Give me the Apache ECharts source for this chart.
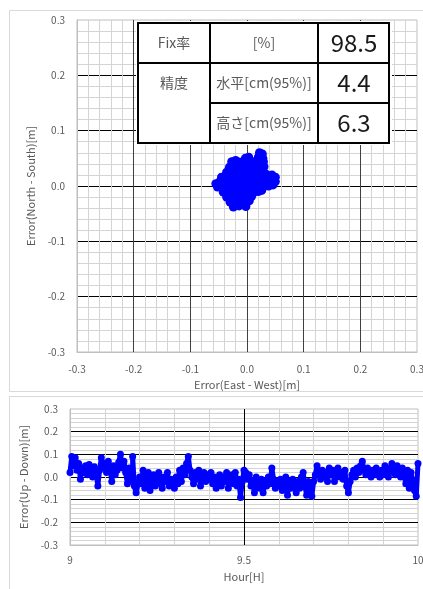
<!DOCTYPE html>
<html>
<head>
<meta charset="utf-8">
<script src="https://cdn.jsdelivr.net/npm/echarts@6/dist/echarts.min.js"></script>
<style>
  html, body { margin: 0; padding: 0; background: #fff; }
  #main { width: 423px; height: 589px; }
</style>
</head>
<body>
<div id="main"></div>
<script>
// 軸の目盛
var errTicks = [-0.3, -0.2, -0.1, 0.0, 0.1, 0.2, 0.3];
var hourTicks = [9, 9.5, 10];

// 表の中身
var tableHeads = ['Fix率', '精度'];
var tableUnits = ['[%]', '水平[cm(95%)]', '高さ[cm(95%)]'];
var tableValues = ['98.5', '4.4', '6.3'];

// 水平誤差 [East-West, North-South] (m)
var horizErr = [
  [0.022, 0.060], [0.027, 0.058],
  [-0.003, 0.050], [0.003, 0.052], [0.020, 0.052], [0.028, 0.050],
  [-0.027, 0.044], [-0.020, 0.046], [-0.012, 0.043], [-0.004, 0.045], [0.006, 0.043], [0.014, 0.044], [0.022, 0.042], [0.029, 0.044],
  [-0.031, 0.034], [-0.022, 0.035], [-0.013, 0.033], [-0.004, 0.036], [0.005, 0.034], [0.014, 0.035], [0.023, 0.033], [0.030, 0.035],
  [-0.036, 0.025], [-0.027, 0.026], [-0.018, 0.024], [-0.009, 0.026], [0.000, 0.025], [0.009, 0.024], [0.018, 0.026], [0.027, 0.025], [0.033, 0.022],
  [-0.045, 0.016], [-0.036, 0.017], [-0.027, 0.015], [-0.018, 0.017], [-0.009, 0.016], [0.000, 0.015], [0.009, 0.017], [0.018, 0.016], [0.027, 0.015], [0.036, 0.018], [0.044, 0.020], [0.050, 0.016],
  [-0.055, 0.004], [-0.048, 0.008], [-0.040, 0.006], [-0.031, 0.007], [-0.022, 0.008], [-0.013, 0.006], [-0.004, 0.007], [0.005, 0.008], [0.014, 0.006], [0.023, 0.007], [0.032, 0.006], [0.041, 0.008], [0.050, 0.008],
  [-0.052, -0.002], [-0.044, -0.001], [-0.035, -0.003], [-0.026, -0.002], [-0.017, -0.001], [-0.008, -0.003], [0.001, -0.002], [0.010, -0.001], [0.019, -0.003], [0.028, -0.002], [0.038, 0.000], [0.046, 0.002],
  [-0.042, -0.011], [-0.033, -0.012], [-0.024, -0.010], [-0.015, -0.012], [-0.006, -0.011], [0.003, -0.010], [0.012, -0.012], [0.020, -0.010], [0.026, -0.008],
  [-0.036, -0.020], [-0.027, -0.021], [-0.018, -0.019], [-0.009, -0.021], [0.000, -0.020], [0.008, -0.019],
  [-0.030, -0.029], [-0.021, -0.030], [-0.012, -0.028], [-0.003, -0.030], [0.004, -0.027],
  [-0.024, -0.038], [-0.014, -0.036], [-0.002, -0.037]
];

// 高さ誤差 [時刻(H), Up-Down(m)]
var upDownErr = [
  [9.000, 0.02], [9.005, 0.09], [9.010, 0.05], [9.015, 0.085], [9.020, 0.03], [9.025, 0.06], [9.030, -0.01], [9.035, 0.04], [9.040, 0.02], [9.045, 0.05],
  [9.050, 0.01], [9.055, 0.055], [9.060, 0.03], [9.065, 0.00], [9.070, 0.045], [9.075, 0.02], [9.080, -0.04], [9.085, 0.03], [9.090, 0.085], [9.095, 0.04],
  [9.100, 0.06], [9.105, 0.02], [9.110, 0.07], [9.115, 0.04], [9.120, -0.02], [9.125, 0.05], [9.130, 0.01], [9.135, 0.03], [9.140, 0.065], [9.145, 0.10],
  [9.150, 0.04], [9.155, 0.07], [9.160, 0.02], [9.165, -0.03], [9.170, 0.04], [9.175, 0.01], [9.180, -0.02], [9.180, 0.09], [9.185, -0.04], [9.190, -0.07],
  [9.200, 0.00], [9.205, -0.03], [9.210, 0.03], [9.215, -0.05], [9.220, -0.01], [9.225, 0.02], [9.230, -0.06], [9.235, -0.02], [9.240, 0.01], [9.245, -0.04],
  [9.250, -0.01], [9.255, 0.02], [9.260, -0.03], [9.265, -0.05], [9.270, 0.00], [9.275, -0.02], [9.280, 0.02], [9.285, -0.04], [9.290, -0.01], [9.295, -0.03],
  [9.300, -0.05], [9.305, 0.00], [9.310, -0.03], [9.315, 0.03], [9.320, -0.02], [9.325, 0.04], [9.330, 0.01], [9.335, 0.06], [9.340, 0.09], [9.345, 0.03],
  [9.350, 0.00], [9.355, -0.03], [9.360, 0.02], [9.365, -0.01], [9.370, 0.03], [9.375, -0.04], [9.380, 0.00], [9.385, 0.02], [9.390, -0.02], [9.395, 0.01],
  [9.400, -0.01], [9.405, 0.02], [9.410, -0.03], [9.415, 0.00], [9.420, -0.05], [9.425, -0.02], [9.430, 0.01], [9.435, -0.04], [9.440, 0.00], [9.445, -0.02],
  [9.450, 0.02], [9.455, -0.05], [9.460, -0.01], [9.465, 0.01], [9.470, -0.03], [9.475, 0.02], [9.480, -0.04], [9.485, -0.01], [9.490, -0.09], [9.495, -0.02],
  [9.500, 0.03], [9.505, 0.02], [9.510, -0.01], [9.515, 0.01], [9.520, -0.04], [9.525, -0.02], [9.530, -0.07], [9.535, 0.00], [9.540, -0.03], [9.545, -0.05],
  [9.550, -0.01], [9.555, -0.07], [9.560, -0.02], [9.565, -0.04], [9.570, 0.00], [9.575, -0.03], [9.580, 0.04], [9.585, -0.01], [9.590, -0.05], [9.595, -0.02],
  [9.600, -0.04], [9.605, -0.01], [9.610, -0.06], [9.615, -0.03], [9.620, 0.00], [9.625, -0.08], [9.630, -0.02], [9.635, -0.05], [9.640, -0.01], [9.645, -0.04],
  [9.650, -0.07], [9.655, -0.02], [9.660, -0.05], [9.665, 0.00], [9.670, 0.02], [9.675, -0.04], [9.680, -0.08], [9.685, -0.02], [9.690, -0.05], [9.695, -0.085],
  [9.700, -0.02], [9.705, 0.01], [9.710, 0.05], [9.715, 0.02], [9.720, -0.01], [9.725, 0.03], [9.730, 0.00], [9.735, 0.02], [9.740, -0.02], [9.745, 0.04],
  [9.750, 0.01], [9.755, 0.03], [9.760, -0.02], [9.765, 0.02], [9.770, 0.04], [9.775, 0.00], [9.780, 0.02], [9.785, -0.01], [9.790, 0.03], [9.795, -0.04],
  [9.800, -0.07], [9.805, -0.02], [9.810, 0.01], [9.815, 0.03], [9.820, 0.00], [9.825, 0.04], [9.830, 0.02], [9.835, 0.05], [9.840, 0.07], [9.845, 0.03],
  [9.850, 0.01], [9.855, 0.04], [9.860, 0.02], [9.865, 0.00], [9.870, 0.03], [9.875, 0.01], [9.880, 0.04], [9.885, 0.02], [9.890, 0.00], [9.895, 0.03],
  [9.900, 0.01], [9.905, 0.05], [9.910, 0.02], [9.915, 0.00], [9.920, 0.04], [9.925, 0.06], [9.930, 0.02], [9.935, 0.01], [9.940, 0.05], [9.945, 0.02],
  [9.950, 0.00], [9.955, 0.04], [9.960, 0.01], [9.965, -0.03], [9.970, 0.03], [9.975, -0.05], [9.980, 0.02], [9.985, -0.02], [9.990, -0.06], [9.995, -0.085],
  [10.000, 0.06]
];

var font = 'Noto Sans CJK JP';
var labelColor = '#595959';

function tickLabel(v) {
  return v.toFixed(1);
}

function errAxis(gridIndex, name, gap, vertMajor) {
  return {
    type: 'value',
    gridIndex: gridIndex,
    min: errTicks[0],
    max: errTicks[errTicks.length - 1],
    interval: 0.1,
    name: name,
    nameLocation: 'middle',
    nameGap: gap,
    nameTextStyle: { color: labelColor, fontFamily: font, fontSize: 11 },
    axisLine: { show: true, onZero: false, lineStyle: { color: '#bfbfbf' } },
    axisTick: { show: false },
    axisLabel: { color: labelColor, fontFamily: font, fontSize: 10, margin: 12, formatter: tickLabel },
    splitLine: { show: true, showMinLine: false, showMaxLine: false, lineStyle: { color: vertMajor, width: 1 } },
    minorTick: { show: false, splitNumber: 5 },
    minorSplitLine: { show: true, lineStyle: { color: '#d4d4d4', width: 1 } }
  };
}

var myChart = echarts.init(document.getElementById('main'));

var option = {
  backgroundColor: '#fff',
  animation: false,
  grid: [
    { left: 77, top: 20, width: 340, height: 332, outerBoundsMode: 'none', containLabel: false, show: true, borderColor: '#bfbfbf', borderWidth: 1 },
    { left: 70, top: 409, width: 348, height: 136, outerBoundsMode: 'none', containLabel: false, show: true, borderColor: '#bfbfbf', borderWidth: 1 }
  ],
  xAxis: [
    errAxis(0, 'Error(East - West)[m]', 22, '#404040'),
    {
      type: 'value',
      gridIndex: 1,
      min: hourTicks[0],
      max: hourTicks[hourTicks.length - 1],
      interval: 0.5,
      name: 'Hour[H]',
      nameLocation: 'middle',
      nameGap: 26,
      nameTextStyle: { color: labelColor, fontFamily: font, fontSize: 11 },
      axisLine: { show: true, onZero: false, lineStyle: { color: '#bfbfbf' } },
      axisTick: { show: false },
      axisLabel: { color: labelColor, fontFamily: font, fontSize: 10, margin: 10 },
      splitLine: { show: true, showMinLine: false, showMaxLine: false, lineStyle: { color: '#000' } },
      minorTick: { show: false, splitNumber: 5 },
      minorSplitLine: { show: true, lineStyle: { color: '#d4d4d4' } }
    }
  ],
  yAxis: [
    errAxis(0, 'Error(North - South)[m]', 30, '#000'),
    errAxis(1, 'Error(Up - Down)[m]', 30, '#000')
  ],
  series: [
    {
      type: 'scatter',
      xAxisIndex: 0,
      yAxisIndex: 0,
      data: horizErr,
      symbolSize: 9,
      itemStyle: { color: '#0000ff', opacity: 1 }
    },
    {
      type: 'line',
      xAxisIndex: 1,
      yAxisIndex: 1,
      data: upDownErr,
      symbol: 'circle',
      symbolSize: 7,
      showAllSymbol: true,
      lineStyle: { color: '#0000ff', width: 5 },
      itemStyle: { color: '#0000ff' }
    }
  ],
  graphic: [
    // 枠
    { type: 'rect', silent: true, z: -10, shape: { x: 9.5, y: 10.5, width: 440, height: 381 }, style: { fill: '#fff', stroke: '#d9d9d9', lineWidth: 1 } },
    { type: 'rect', silent: true, z: -10, shape: { x: 9.5, y: 396.5, width: 440, height: 220 }, style: { fill: '#fff', stroke: '#d9d9d9', lineWidth: 1 } },
    // 表
    { type: 'rect', z: 100, shape: { x: 136, y: 21, width: 256, height: 124 }, style: { fill: '#fff' } },
    { type: 'rect', z: 101, shape: { x: 138, y: 23, width: 251, height: 120 }, style: { fill: '#fff', stroke: '#000', lineWidth: 2 } },
    { type: 'line', z: 102, shape: { x1: 210, y1: 23, x2: 210, y2: 143 }, style: { stroke: '#000', lineWidth: 2 } },
    { type: 'line', z: 102, shape: { x1: 318, y1: 23, x2: 318, y2: 143 }, style: { stroke: '#000', lineWidth: 2 } },
    { type: 'line', z: 102, shape: { x1: 138, y1: 63, x2: 389, y2: 63 }, style: { stroke: '#000', lineWidth: 2 } },
    { type: 'line', z: 102, shape: { x1: 210, y1: 103, x2: 389, y2: 103 }, style: { stroke: '#000', lineWidth: 2 } },
    { type: 'text', z: 103, x: 174, y: 43, style: { text: tableHeads[0], fill: labelColor, font: '14px "' + font + '"', align: 'center', verticalAlign: 'middle' } },
    { type: 'text', z: 103, x: 174, y: 83, style: { text: tableHeads[1], fill: labelColor, font: '14px "' + font + '"', align: 'center', verticalAlign: 'middle' } },
    { type: 'text', z: 103, x: 264, y: 43, style: { text: tableUnits[0], fill: labelColor, font: '14px "' + font + '"', align: 'center', verticalAlign: 'middle' } },
    { type: 'text', z: 103, x: 264, y: 83, style: { text: tableUnits[1], fill: labelColor, font: '14px "' + font + '"', align: 'center', verticalAlign: 'middle' } },
    { type: 'text', z: 103, x: 264, y: 123, style: { text: tableUnits[2], fill: labelColor, font: '14px "' + font + '"', align: 'center', verticalAlign: 'middle' } },
    { type: 'text', z: 103, x: 354, y: 43, style: { text: tableValues[0], fill: '#1a1a1a', font: '24px "' + font + '"', align: 'center', verticalAlign: 'middle' } },
    { type: 'text', z: 103, x: 354, y: 83, style: { text: tableValues[1], fill: '#1a1a1a', font: '24px "' + font + '"', align: 'center', verticalAlign: 'middle' } },
    { type: 'text', z: 103, x: 354, y: 123, style: { text: tableValues[2], fill: '#1a1a1a', font: '24px "' + font + '"', align: 'center', verticalAlign: 'middle' } }
  ]
};

window.onresize = function () {
  myChart.resize();
};
myChart.setOption(option);
</script>
</body>
</html>
